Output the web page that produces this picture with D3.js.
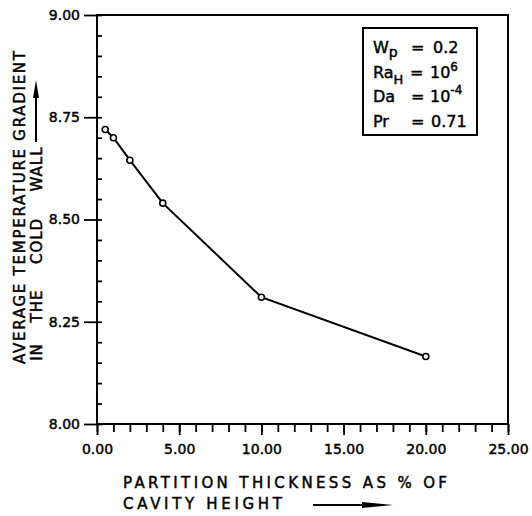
<!DOCTYPE html>
<html>
<head>
<meta charset="utf-8">
<script src="https://cdn.jsdelivr.net/npm/d3@7"></script>
<style>
  html, body { margin: 0; padding: 0; background: #fff; }
  svg { display: block; }
  text { font-family: "DejaVu Sans", sans-serif; fill: #000; stroke: #000; stroke-width: 0.45px; }
</style>
</head>
<body>
<svg id="chart" width="532" height="516"></svg>
<script>
// ---- data ----
const thickness = [0.5, 1.0, 2.0, 4.0, 10.0, 20.0];
const gradient  = [8.72, 8.70, 8.645, 8.54, 8.31, 8.165];
const xMajorTicks = [0, 5, 10, 15, 20, 25];
const xTickLabels = ["0.00", "5.00", "10.00", "15.00", "20.00", "25.00"];
const yMajorTicks = [8.00, 8.25, 8.50, 8.75, 9.00];
const yTickLabels = ["8.00", "8.25", "8.50", "8.75", "9.00"];
const xMinorTicks = d3.range(0, 26, 1);
const yMinorTicks = d3.range(0, 21).map(i => 8 + i * 0.05);
const yTitleLine1 = "AVERAGE TEMPERATURE GRADIENT";
const yTitleLine2 = ["IN", "THE", "COLD", "WALL"];
const xTitleLine1 = "PARTITION THICKNESS AS % OF";
const xTitleLine2 = "CAVITY HEIGHT";

const svg = d3.select("#chart");
const L = 97, R = 508, T = 15, B = 424;
const x = d3.scaleLinear().domain([0, 25]).range([L, R]);
const y = d3.scaleLinear().domain([8, 9]).range([B, T]);

// frame
svg.append("rect").attr("x", L).attr("y", T).attr("width", R - L).attr("height", B - T)
  .attr("fill", "none").attr("stroke", "#000").attr("stroke-width", 2);

// x axis minor / major ticks (outward, down)
const xMinor = svg.append("g").attr("transform", `translate(0,${B})`)
  .call(d3.axisBottom(x).tickValues(xMinorTicks).tickSize(8).tickFormat(""));
const xMajor = svg.append("g").attr("transform", `translate(0,${B})`)
  .call(d3.axisBottom(x).tickValues(xMajorTicks).tickSize(11)
        .tickFormat((d, i) => xTickLabels[i]).tickPadding(9));
[xMinor, xMajor].forEach(g => {
  g.select(".domain").remove();
  g.selectAll("line").attr("stroke", "#000").attr("stroke-width", 1.8);
});
xMajor.selectAll("text").attr("font-size", 14).attr("font-family", "DejaVu Sans");

// y axis minor ticks (inward) and major ticks (outward)
const yMinor = svg.append("g").attr("transform", `translate(${L},0)`)
  .call(d3.axisRight(y).tickValues(yMinorTicks).tickSize(5).tickFormat(""));
const yMajor = svg.append("g").attr("transform", `translate(${L},0)`)
  .call(d3.axisLeft(y).tickValues(yMajorTicks).tickSize(13)
        .tickFormat((d, i) => yTickLabels[i]).tickPadding(4));
[yMinor, yMajor].forEach(g => {
  g.select(".domain").remove();
  g.selectAll("line").attr("stroke", "#000").attr("stroke-width", 1.8);
});
yMajor.selectAll("text").attr("font-size", 14).attr("font-family", "DejaVu Sans");

// data line
const pts = thickness.map((t, i) => [t, gradient[i]]);
svg.append("path").datum(pts)
  .attr("fill", "none").attr("stroke", "#000").attr("stroke-width", 2)
  .attr("d", d3.line().x(d => x(d[0])).y(d => y(d[1])));
svg.selectAll("circle.pt").data(pts).enter().append("circle")
  .attr("class", "pt")
  .attr("cx", d => x(d[0])).attr("cy", d => y(d[1])).attr("r", 3)
  .attr("fill", "#fff").attr("stroke", "#000").attr("stroke-width", 1.6);

// legend box
const lg = svg.append("g");
lg.append("rect").attr("x", 363).attr("y", 28).attr("width", 114).attr("height", 107)
  .attr("fill", "#fff").attr("stroke", "#000").attr("stroke-width", 2);
const fs = 16;
function row(yb, parts) {
  const t = lg.append("text").attr("y", yb).attr("font-size", fs);
  parts.forEach(p => {
    const s = t.append("tspan").text(p.t);
    if (p.x !== undefined) s.attr("x", p.x);
    if (p.dy !== undefined) s.attr("dy", p.dy);
    if (p.fs) s.attr("font-size", p.fs);
  });
}
row(53, [{t: "W", x: 373}, {t: "p", dy: 4, fs: 14}, {t: "=", x: 411, dy: -4}, {t: "0.2", x: 433}]);
row(78, [{t: "Ra", x: 373}, {t: "H", dy: 6, fs: 13}, {t: "=", x: 410, dy: -6}, {t: "10", x: 430}, {t: "6", dy: -7, fs: 12}]);
row(102, [{t: "Da", x: 373}, {t: "=", x: 411}, {t: "10", x: 430}, {t: "-4", dy: -8, fs: 12}]);
row(127, [{t: "Pr", x: 373}, {t: "=", x: 411}, {t: "0.71", x: 431}]);

// y axis title
svg.append("text")
  .attr("transform", "translate(25,364) rotate(-90)")
  .attr("font-size", 15).attr("textLength", 313).attr("lengthAdjust", "spacing")
  .text(yTitleLine1);
const line2Pos = [352, 306, 241, 169];
yTitleLine2.forEach((w, i) => {
  svg.append("text")
    .attr("transform", `translate(42,${line2Pos[i]}) rotate(-90)`)
    .attr("font-size", 15).attr("text-anchor", "middle").attr("letter-spacing", 1)
    .text(w);
});
// y arrow
svg.append("line").attr("x1", 36).attr("x2", 36).attr("y1", 142).attr("y2", 92)
  .attr("stroke", "#000").attr("stroke-width", 2);
svg.append("path").attr("d", "M36,80 L33,98 L39,98 Z").attr("fill", "#000");

// x axis title
svg.append("text").attr("x", 123).attr("y", 488).attr("font-size", 15)
  .attr("textLength", 324).attr("lengthAdjust", "spacing").text(xTitleLine1);
svg.append("text").attr("x", 123).attr("y", 509).attr("font-size", 15)
  .attr("textLength", 159).attr("lengthAdjust", "spacing").text(xTitleLine2);
// x arrow
svg.append("line").attr("x1", 313).attr("x2", 378).attr("y1", 505).attr("y2", 505)
  .attr("stroke", "#000").attr("stroke-width", 2);
svg.append("path").attr("d", "M393,505 L362,502 L362,508 Z").attr("fill", "#000");
</script>
</body>
</html>
